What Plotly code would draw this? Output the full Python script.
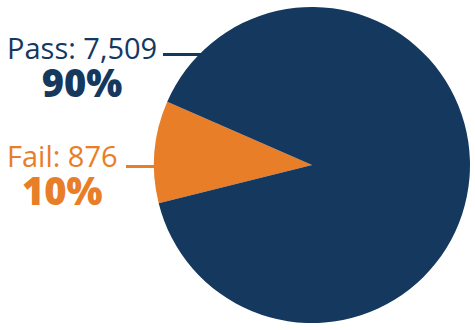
import plotly.graph_objects as go

labels = ["Fail", "Pass"]
values = [876, 7509]
colors = ["#e87e27", "#15385f"]

W, H = 475, 330
total = sum(values)

fig = go.Figure(go.Pie(
    labels=labels, values=values, sort=False, direction="clockwise",
    rotation=256, marker=dict(colors=colors, line=dict(width=0)),
    textinfo="none", hoverinfo="label+value+percent",
    domain=dict(x=[154 / W, 470 / W], y=[1 - 323 / H, 1 - 7 / H]),
    showlegend=False,
))

def px(x):
    return x / W

def py(y):
    return 1 - y / H

font_family = "Open Sans"
pass_pct = round(values[1] / total * 100)
fail_pct = round(values[0] / total * 100)

def label_text(name, val, pct):
    return (f"{name}: {val:,}<br>"
            f"<span style='font-size:38px;font-weight:800'>{pct}%</span>")

anns = [
    dict(text=label_text(labels[1], values[1], pass_pct), x=px(82), y=py(68),
         font=dict(size=29, color=colors[1], family=font_family)),
    dict(text=label_text(labels[0], values[0], fail_pct), x=px(62), y=py(176),
         font=dict(size=29, color=colors[0], family=font_family)),
]
for a in anns:
    a.update(xref="paper", yref="paper", xanchor="center", yanchor="middle",
             align="center", showarrow=False)

shapes = [
    dict(type="line", xref="paper", yref="paper", x0=px(163), x1=px(212), y0=py(54.5), y1=py(54.5),
         line=dict(color=colors[1], width=3), layer="below"),
    dict(type="line", xref="paper", yref="paper", x0=px(126), x1=px(160), y0=py(166.5), y1=py(166.5),
         line=dict(color=colors[0], width=3), layer="below"),
]

fig.update_layout(
    width=W, height=H, margin=dict(l=0, r=0, t=0, b=0),
    paper_bgcolor="white", plot_bgcolor="white",
    annotations=anns, shapes=shapes,
)
fig.write_html("out.html")
